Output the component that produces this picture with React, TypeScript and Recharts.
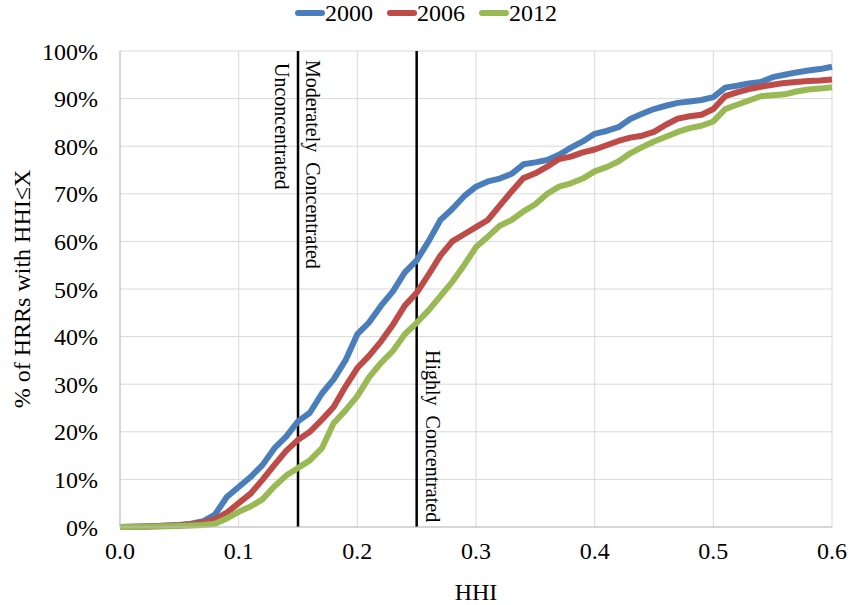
import {
  CartesianGrid,
  Label,
  Legend,
  Line,
  LineChart,
  ReferenceLine,
  XAxis,
  YAxis,
} from 'recharts';

const FONT = '"Liberation Serif", "Times New Roman", serif';

// HHI value on the x axis
const hhi = [
  0.0, 0.01, 0.02, 0.03, 0.04, 0.05, 0.06, 0.07, 0.08, 0.09,
  0.1, 0.11, 0.12, 0.13, 0.14, 0.15, 0.16, 0.17, 0.18, 0.19,
  0.2, 0.21, 0.22, 0.23, 0.24, 0.25, 0.26, 0.27, 0.28, 0.29,
  0.3, 0.31, 0.32, 0.33, 0.34, 0.35, 0.36, 0.37, 0.38, 0.39,
  0.4, 0.41, 0.42, 0.43, 0.44, 0.45, 0.46, 0.47, 0.48, 0.49,
  0.5, 0.51, 0.52, 0.53, 0.54, 0.55, 0.56, 0.57, 0.58, 0.59,
  0.6,
];

// % of HRRs with HHI <= x
const share2000 = [
  0, 0.05, 0.1, 0.2, 0.3, 0.4, 0.7, 1.2, 2.6, 6.3,
  8.4, 10.5, 13, 16.5, 19, 22.2, 24, 28, 31, 35,
  40.5, 43, 46.5, 49.5, 53.5, 56, 60, 64.5, 66.8, 69.5,
  71.5, 72.6, 73.2, 74.2, 76.2, 76.6, 77.1, 78.2, 79.7, 81,
  82.6, 83.2, 84, 85.7, 86.8, 87.8, 88.5, 89.1, 89.4, 89.7,
  90.3, 92.3, 92.7, 93.2, 93.5, 94.5, 95, 95.5, 95.9, 96.2,
  96.7,
];
const share2006 = [
  0, 0.05, 0.1, 0.15, 0.25, 0.35, 0.6, 0.9, 1.6, 3.0,
  5.0, 7.0, 9.9, 13, 16, 18.3, 20, 22.5, 25.2, 29.5,
  33.4, 36, 39, 42.5, 46.5, 49.2, 53, 57, 60, 61.5,
  63, 64.5, 67.5, 70.5, 73.3, 74.3, 75.7, 77.3, 77.8, 78.7,
  79.3, 80.2, 81.1, 81.8, 82.2, 83, 84.5, 85.8, 86.3, 86.6,
  87.8, 90.5, 91.3, 92, 92.5, 92.9, 93.3, 93.5, 93.7, 93.8,
  94,
];
const share2012 = [
  0, 0, 0.05, 0.1, 0.15, 0.2, 0.3, 0.4, 0.7, 1.8,
  3.2, 4.3, 5.8, 8.5, 10.8, 12.4, 14, 16.5, 21.8, 24.5,
  27.5, 31.5, 34.5, 37, 40.5, 42.9, 45.5, 48.5, 51.5, 55,
  58.8, 61, 63.3, 64.5, 66.3, 67.8, 70, 71.5, 72.2, 73.2,
  74.7, 75.6, 76.8, 78.5, 79.8, 81, 82, 83, 83.8, 84.3,
  85.2, 87.8, 88.7, 89.6, 90.5, 90.7, 90.9, 91.5, 91.9, 92.1,
  92.4,
];

const years = ['2000', '2006', '2012'];
const colors = ['#4A7EBB', '#BE4B48', '#98B954'];
const xTicks = [0, 0.1, 0.2, 0.3, 0.4, 0.5, 0.6];
const yTicks = [0, 10, 20, 30, 40, 50, 60, 70, 80, 90, 100];

const data = hhi.map((h, i) => ({
  hhi: h,
  '2000': share2000[i],
  '2006': share2006[i],
  '2012': share2012[i],
}));

function YearLegend() {
  return (
    <div
      style={{
        display: 'flex',
        justifyContent: 'center',
        marginTop: 1,
        paddingLeft: 20,
        fontFamily: FONT,
        fontSize: 24,
        lineHeight: '24px',
        color: '#000',
      }}
    >
      {years.map((y, i) => (
        <span
          key={y}
          style={{ display: 'flex', alignItems: 'center', marginLeft: i ? 14 : 0 }}
        >
          <span
            style={{ width: 30, height: 6, borderRadius: 3, background: colors[i] }}
          />
          {y}
        </span>
      ))}
    </div>
  );
}

function zoneLabels(items: { text: string; dx: number; dy: number }[]) {
  return (props: any) => {
    const vb = props.viewBox || {};
    return (
      <g>
        {items.map((it) => {
          const x = vb.x + it.dx;
          const y = vb.y + it.dy;
          return (
            <text
              key={it.text}
              x={x}
              y={y}
              transform={`rotate(90, ${x}, ${y})`}
              textAnchor="start"
              dominantBaseline="central"
              fontFamily={FONT}
              fontSize={20}
              fill="#000"
              style={{ whiteSpace: 'pre' }}
            >
              {it.text}
            </text>
          );
        })}
      </g>
    );
  };
}

export default function App() {
  // pinned to the window corner so nothing overflows into scrollbars
  return (
    <div
      style={{
        position: 'absolute',
        left: 0,
        top: 0,
        width: 851,
        height: 605,
        overflow: 'hidden',
        background: '#fff',
      }}
    >
      <LineChart
        width={851}
        height={605}
        data={data}
        margin={{ top: 0, right: 19, bottom: 0, left: 0 }}
      >
        <CartesianGrid stroke="#d9d9d9" />
        <XAxis
          dataKey="hhi"
          type="number"
          domain={[0, 0.6]}
          ticks={xTicks}
          tickFormatter={(v: number) => v.toFixed(1)}
          height={78}
          tickLine={false}
          tickMargin={9}
          axisLine={{ stroke: '#bfbfbf' }}
          tick={{ fontFamily: FONT, fontSize: 24, fill: '#000' }}
        >
          <Label
            value="HHI"
            position="insideBottom"
            offset={5}
            style={{ fontFamily: FONT, fontSize: 24, fill: '#000' }}
          />
        </XAxis>
        <YAxis
          type="number"
          domain={[0, 100]}
          ticks={yTicks}
          tickFormatter={(v: number) => `${v}%`}
          width={120}
          tickLine={false}
          tickMargin={16}
          axisLine={{ stroke: '#bfbfbf' }}
          tick={{ fontFamily: FONT, fontSize: 24, fill: '#000' }}
        >
          <Label
            content={(props: any) => {
              const vb = props.viewBox || {};
              const x = vb.x + 22;
              const y = vb.y + vb.height / 2;
              return (
                <text
                  x={x}
                  y={y}
                  transform={`rotate(-90, ${x}, ${y})`}
                  textAnchor="middle"
                  dominantBaseline="central"
                  fontFamily={FONT}
                  fontSize={24}
                  fill="#000"
                >
                  % of HRRs with HHI≤X
                </text>
              );
            }}
          />
        </YAxis>
        <Legend verticalAlign="top" height={51} content={<YearLegend />} />
        <ReferenceLine
          x={0.15}
          stroke="#000"
          strokeWidth={2.5}
          label={zoneLabels([
            { text: 'Unconcentrated', dx: -16, dy: 12 },
            { text: 'Moderately  Concentrated', dx: 15, dy: 9 },
          ])}
        />
        <ReferenceLine
          x={0.25}
          stroke="#000"
          strokeWidth={2.5}
          label={zoneLabels([{ text: 'Highly  Concentrated', dx: 16, dy: 299 }])}
        />
        {years.map((y, i) => (
          <Line
            key={y}
            dataKey={y}
            name={y}
            type="linear"
            stroke={colors[i]}
            strokeWidth={6}
            strokeLinejoin="round"
            dot={false}
            activeDot={false}
            isAnimationActive={false}
          />
        ))}
      </LineChart>
    </div>
  );
}
